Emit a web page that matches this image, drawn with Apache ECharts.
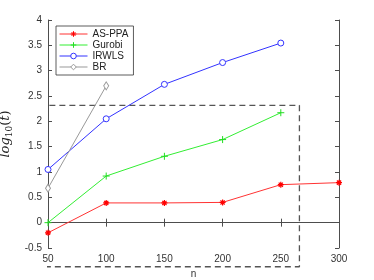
<!DOCTYPE html>
<html><head><meta charset="utf-8">
<script src="https://cdn.jsdelivr.net/npm/echarts@6/dist/echarts.min.js"></script>
<style>html,body{margin:0;padding:0;background:#fff}#c{width:374px;height:280px}</style>
</head><body><div id="c"></div>
<script>
var nValues = [50, 100, 150, 200, 250, 300];
var asppa = [-0.2, 0.39, 0.39, 0.40, 0.75, 0.79];
var gurobi = [0.0, 0.92, 1.31, 1.64, 2.17];
var irwls = [1.05, 2.05, 2.73, 3.16, 3.545];
var br = [0.68, 2.70];
var yTicks = [-0.5, 0, 0.5, 1, 1.5, 2, 2.5, 3, 3.5, 4];
var boxX = [34, 266];
var boxY = [-0.87, 2.315];

function pairs(vals){ return vals.map(function(v,i){ return [nValues[i], v]; }); }
var boxData = [[boxX[0],boxY[1]],[boxX[1],boxY[1]],[boxX[1],boxY[0]],[boxX[0],boxY[0]],[boxX[0],boxY[1]]];

var axisCol = '#4d4d4d';
var lblFont = {color:'#333', fontSize:10, fontFamily:'Liberation Sans, Arial, sans-serif'};
var starPath = 'path://M5,0L5,10M0,5L10,5M1.5,1.5L8.5,8.5M1.5,8.5L8.5,1.5';
var plusPath = 'path://M5,0L5,10M0,5L10,5';

var chart = echarts.init(document.getElementById('c'), null, {renderer:'canvas'});
chart.setOption({
  animation:false,
  backgroundColor:'#fff',
  grid:{left:48, right:35, top:20, bottom:32, containLabel:false, outerBoundsMode:'none'},
  legend:{
    left:56, top:26, orient:'vertical', itemGap:1, itemWidth:28, itemHeight:7,
    padding:[3,5,3,3], backgroundColor:'#fff', borderColor:'#333', borderWidth:0.8,
    textStyle:{color:'#222', fontSize:10, fontFamily:'Liberation Sans, Arial, sans-serif'},
    lineStyle:{width:1}, itemStyle:{borderWidth:1},
    data:['AS-PPA','Gurobi','IRWLS','BR']
  },
  xAxis:[{
    type:'value', min:50, max:300, interval:50, position:'bottom',
    name:'n', nameLocation:'middle', nameGap:17,
    nameTextStyle:{color:'#333', fontSize:10, fontFamily:'Liberation Sans, Arial, sans-serif'},
    axisLine:{lineStyle:{color:axisCol, width:1}},
    axisTick:{inside:true, length:4, lineStyle:{color:axisCol}},
    axisLabel:Object.assign({margin:6}, lblFont),
    splitLine:{show:false}
  },{
    type:'value', min:50, max:300, interval:50, position:'top',
    axisLine:{show:true, lineStyle:{color:axisCol, width:1}},
    axisTick:{inside:true, length:4, lineStyle:{color:axisCol}},
    axisLabel:{show:false}, splitLine:{show:false}
  }],
  yAxis:[{
    type:'value', min:-0.5, max:4, interval:0.5, position:'left',
    name:'{i|log}{s|10}{n|(}{i|t\u0303}{n|)}', nameLocation:'middle', nameRotate:90, nameGap:26,
    nameTextStyle:{rich:{
      i:{fontFamily:'DejaVu Serif, serif', fontStyle:'italic', fontSize:13, color:'#222'},
      n:{fontFamily:'DejaVu Serif, serif', fontSize:13, color:'#222'},
      s:{fontFamily:'DejaVu Serif, serif', fontSize:9, color:'#222', padding:[7,0,0,0]}
    }},
    axisLine:{show:true, lineStyle:{color:axisCol, width:1}},
    axisTick:{inside:true, length:4, lineStyle:{color:axisCol}},
    axisLabel:Object.assign({margin:6, formatter:function(v){ return yTicks.indexOf(v)>=0 ? String(v) : ''; }}, lblFont),
    splitLine:{show:false}
  },{
    type:'value', min:-0.5, max:4, interval:0.5, position:'right',
    axisLine:{show:true, lineStyle:{color:axisCol, width:1}},
    axisTick:{inside:true, length:4, lineStyle:{color:axisCol}},
    axisLabel:{show:false}, splitLine:{show:false}
  }],
  series:[
    {name:'AS-PPA', type:'line', data:pairs(asppa), symbol:starPath, symbolSize:6,
      lineStyle:{color:'#ff3333', width:1}, itemStyle:{color:'#ff0000', borderColor:'#ff0000', borderWidth:1.2}},
    {name:'Gurobi', type:'line', data:pairs(gurobi), symbol:plusPath, symbolSize:7,
      lineStyle:{color:'#33ee33', width:1}, itemStyle:{color:'#22dd22', borderColor:'#22dd22', borderWidth:1}},
    {name:'IRWLS', type:'line', data:pairs(irwls), symbol:'circle', symbolSize:6, showAllSymbol:true,
      lineStyle:{color:'#3333ff', width:1}, itemStyle:{color:'#fff', borderColor:'#3333ff', borderWidth:1}},
    {name:'BR', type:'line', data:pairs(br), symbol:'diamond', symbolSize:[5,8],
      lineStyle:{color:'#999', width:1}, itemStyle:{color:'#fff', borderColor:'#999', borderWidth:1}},
    {name:'box', type:'line', data:boxData, symbol:'none', clip:false, silent:true, z:1,
      lineStyle:{color:'#555', width:1.3, type:[6,4]}}
  ]
});
</script>
</body></html>
